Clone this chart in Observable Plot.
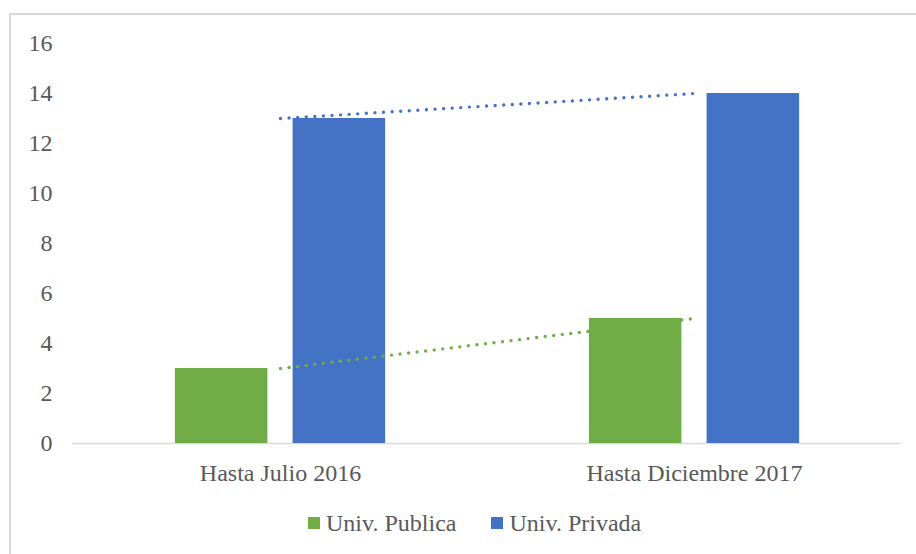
<!DOCTYPE html>
<html>
<head>
<meta charset="utf-8">
<script src="https://cdn.jsdelivr.net/npm/d3@7"></script>
<script src="https://cdn.jsdelivr.net/npm/@observablehq/plot@0.6"></script>
<style>
  html, body { margin: 0; padding: 0; background: #fff; }
  #wrap { position: relative; width: 916px; height: 554px; overflow: hidden; font-family: "Liberation Serif", "Times New Roman", serif; }
  #frame { position: absolute; left: 9px; top: 13px; width: 2000px; height: 2000px; border-left: 2px solid #d9d9d9; border-top: 2px solid #d9d9d9; box-sizing: border-box; }
  #chart { position: absolute; left: 0; top: 0; }
  #legend { position: absolute; left: 308px; top: 510px; display: flex; align-items: center; font-size: 24px; color: #595959; line-height: 26px; white-space: nowrap; }
  .item { display: flex; align-items: center; }
  .sw { width: 12px; height: 12px; margin-right: 6px; }
</style>
</head>
<body>
<div id="wrap">
  <div id="frame"></div>
  <div id="chart"></div>
  <div id="legend"></div>
</div>
<script>
const categories = ["Hasta Julio 2016", "Hasta Diciembre 2017"];
const seriesNames = ["Univ. Publica", "Univ. Privada"];
const publica = [3, 5];
const privada = [13, 14];
const colors = ["#70AD47", "#4472C4"];
const yTicks = [0, 2, 4, 6, 8, 10, 12, 14, 16];

const rows = [];
categories.forEach((c, i) => {
  rows.push({cat: c, serie: seriesNames[0], value: publica[i]});
  rows.push({cat: c, serie: seriesNames[1], value: privada[i]});
});

const W = 916, H = 500;
const mL = 72, mR = 15, mT = 43, mB = 57;
const band = (W - mL - mR) / categories.length;
// Excel-like layout: gap between groups & overlap between series
const barW = band * 0.2245;
const innerGap = band * 0.0595;
const groupW = 2 * barW + innerGap;
const outer = (band - groupW) / 2;

const font = "'Liberation Serif', 'Times New Roman', serif";

const chart = Plot.plot({
  width: W, height: H,
  marginLeft: mL, marginRight: mR, marginTop: mT, marginBottom: mB,
  style: {fontFamily: font, fontSize: "24px", color: "#595959", background: "transparent", overflow: "visible"},
  x: {type: "band", domain: categories, padding: 0, label: null},
  y: {domain: [0, 16], label: null},
  color: {domain: seriesNames, range: colors},
  marks: [
    Plot.axisY({ticks: yTicks, tickSize: 0, tickPadding: 20, label: null, fill: "#595959", fontSize: 24}),
    Plot.axisX({tickSize: 0, tickPadding: 20, label: null, fill: "#595959", fontSize: 24}),
    Plot.ruleY([0], {stroke: "#d9d9d9", strokeWidth: 1.6}),
    Plot.barY(rows.filter(d => d.serie === seriesNames[0]), {
      x: "cat", y: "value", fill: colors[0],
      insetLeft: outer, insetRight: outer + barW + innerGap
    }),
    Plot.barY(rows.filter(d => d.serie === seriesNames[1]), {
      x: "cat", y: "value", fill: colors[1],
      insetLeft: outer + barW + innerGap, insetRight: outer
    }),
    Plot.line(rows.filter(d => d.serie === seriesNames[0]), {
      x: "cat", y: "value", stroke: colors[0], strokeWidth: 3.4,
      strokeDasharray: "0 8.6", strokeLinecap: "round"
    }),
    Plot.line(rows.filter(d => d.serie === seriesNames[1]), {
      x: "cat", y: "value", stroke: colors[1], strokeWidth: 3.4,
      strokeDasharray: "0 8.6", strokeLinecap: "round"
    })
  ]
});
document.getElementById("chart").appendChild(chart);

const legend = document.getElementById("legend");
seriesNames.forEach((s, i) => {
  const it = document.createElement("div");
  it.className = "item";
  if (i > 0) it.style.marginLeft = "35px";
  const sw = document.createElement("div");
  sw.className = "sw";
  sw.style.background = colors[i];
  const t = document.createElement("span");
  t.textContent = s;
  it.appendChild(sw); it.appendChild(t);
  legend.appendChild(it);
});
</script>
</body>
</html>
